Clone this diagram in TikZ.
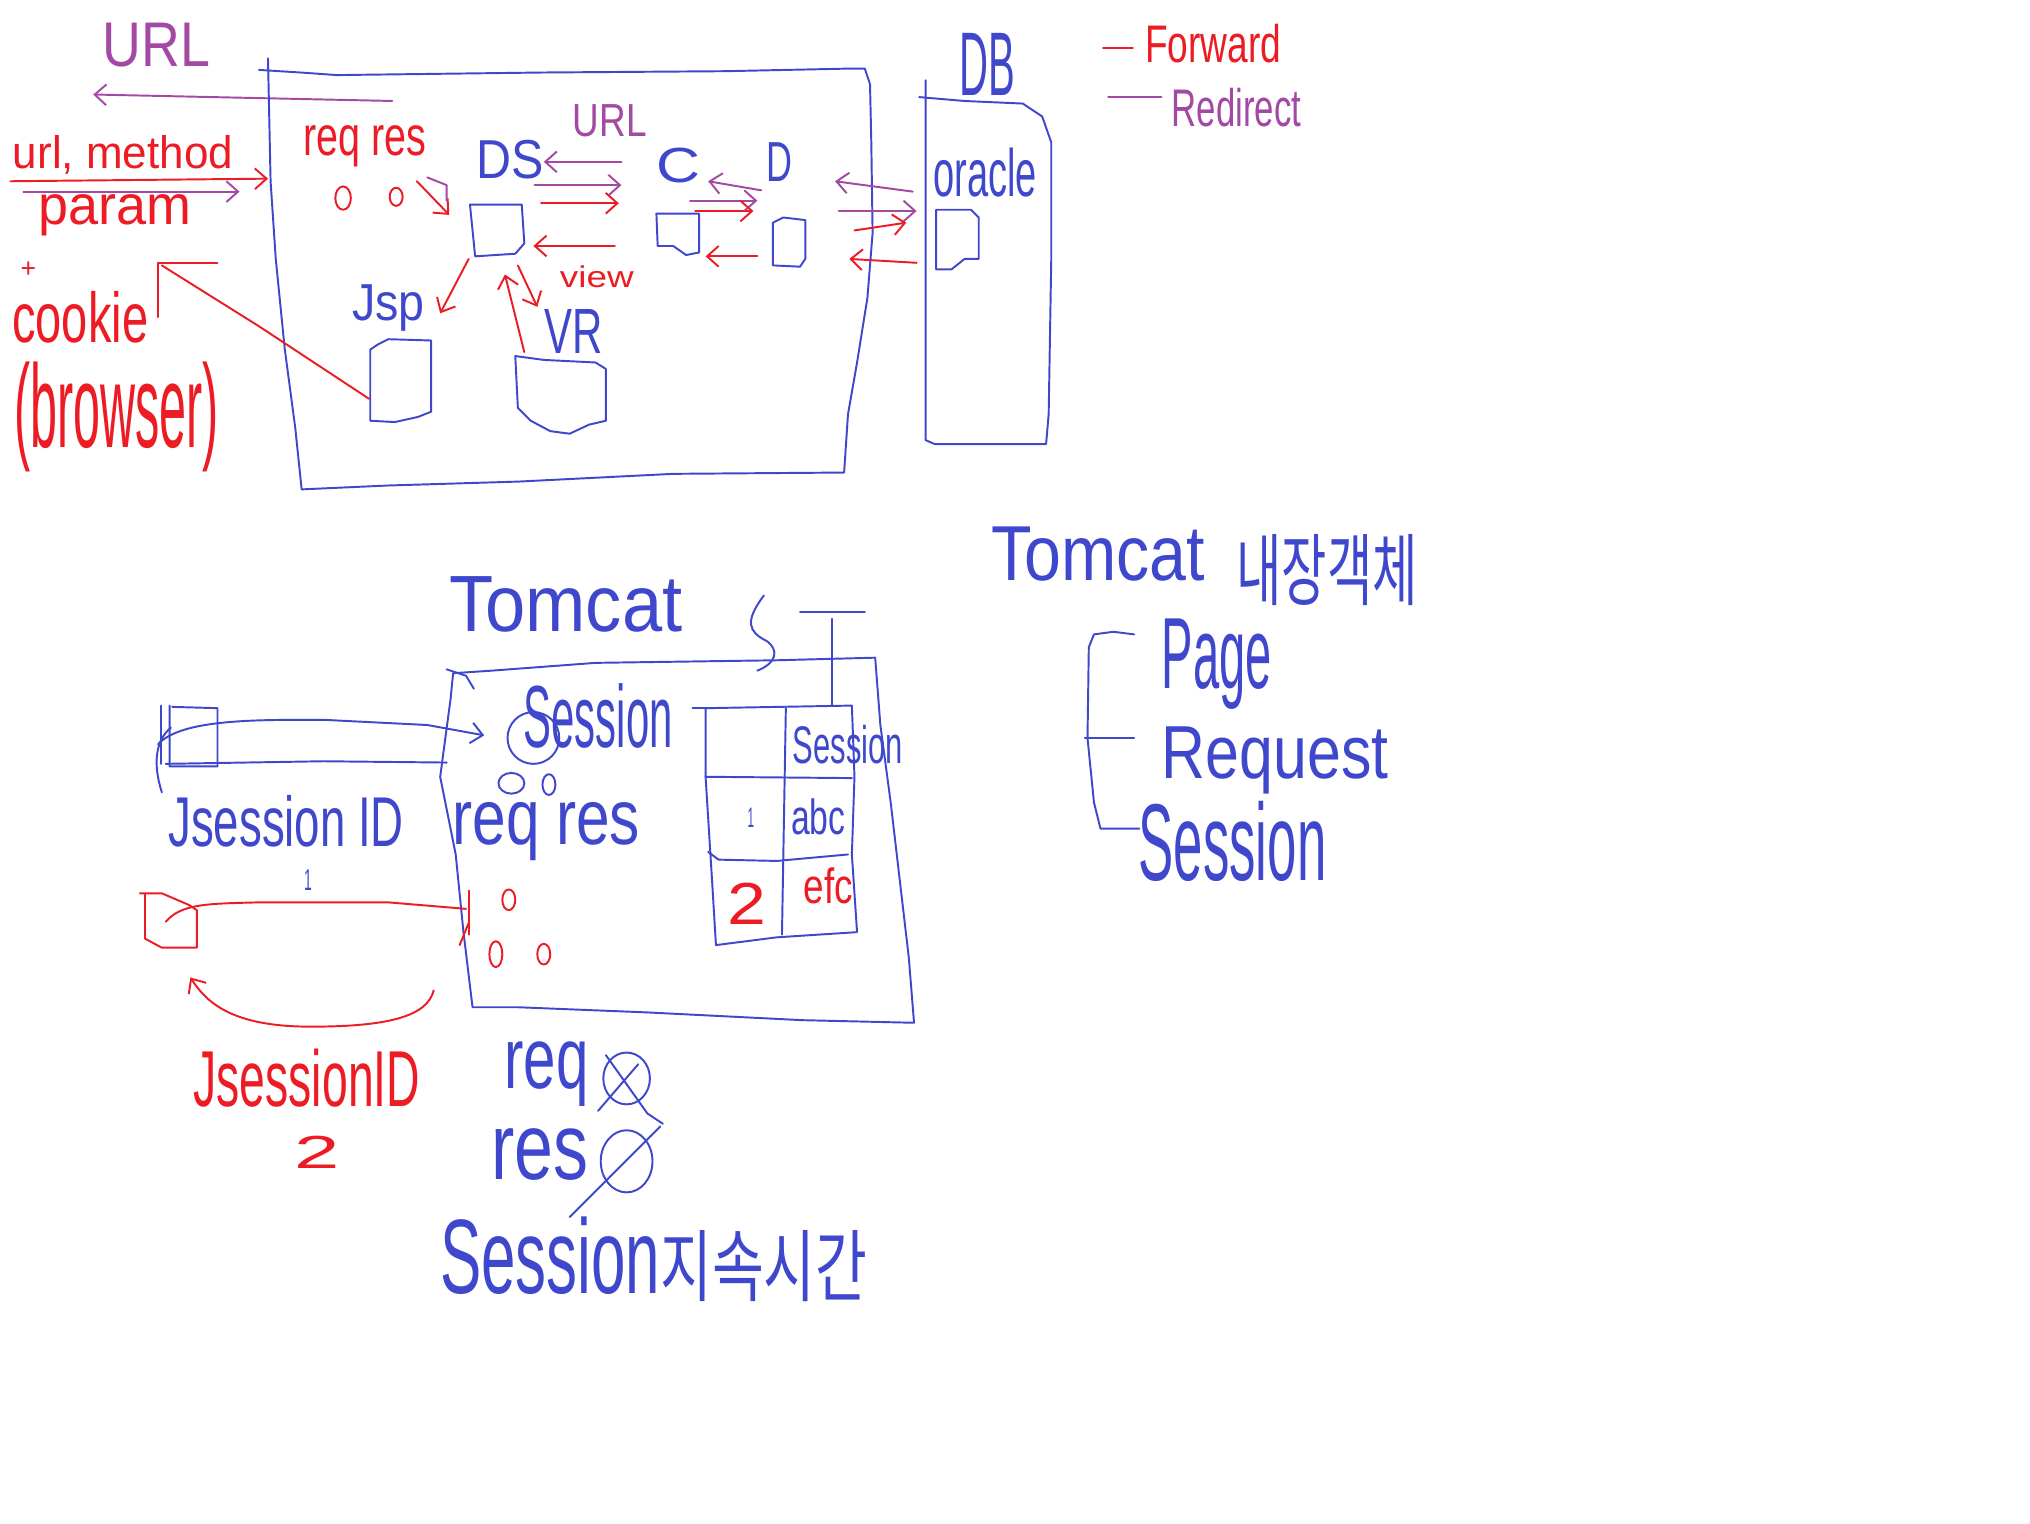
\documentclass[tikz,border=0pt]{standalone}
\usepackage{graphicx}
\usepackage{fontspec}
\setmainfont{Liberation Sans}
\newfontfamily\kr{Noto Sans CJK KR}
\usetikzlibrary{arrows.meta}
\definecolor{pb}{RGB}{63,72,204}
\definecolor{pr}{RGB}{237,28,36}
\definecolor{pp}{RGB}{163,73,164}
\newcommand\hwbox[3]{\resizebox*{#1pt}{#2pt}{#3}}
\begin{document}
\begin{tikzpicture}[x=1pt,y=-1pt,line width=1.5pt,line join=round,line cap=round,
  bl/.style={draw=pb}, rd/.style={draw=pr}, pu/.style={draw=pp},
  ar/.style={-{Straight Barb[length=9pt,width=16pt]}},
  ra/.style={{Straight Barb[length=9pt,width=16pt]}-},
  tx/.style={inner sep=0pt,anchor=center},
  tb/.style={tx,text=pb}, tr/.style={tx,text=pr}, tp/.style={tx,text=pp}]
\useasboundingbox[fill=white] (0,0) rectangle (1568,1177);

% ---------------- top section ----------------
\node[tp] (tURL) at (121,35) {\hwbox{83}{34}{URL}};
\coordinate (uA) at (303,78); \coordinate (uB) at (72,73);
\draw[pu,ar] (uA) -- (uB);

% big server box
\draw[bl] (200,54) -- (232,56) -- (260,58) -- (420,56) -- (560,55) -- (655,53) -- (668,53)
  -- (672,65) -- (673,110) -- (674,180) -- (670,230) -- (662,280) -- (655,320) -- (652,365)
  -- (520,366) -- (400,372) -- (300,375) -- (233,378) -- (228,330) -- (220,270) -- (213,200)
  -- (209,140) -- (207,45);

\node[tr] (tum) at (95,120) {\hwbox{170}{30}{url, method}};
\coordinate (rA) at (8,140); \coordinate (rB) at (207,138);
\draw[rd,ar] (rA) -- (rB);
\coordinate (pA) at (18,148); \coordinate (pB) at (185,148);
\draw[pu,ar] (pA) -- (pB);
\node[tr] (tparam) at (89,166) {\hwbox{118}{32}{param}};
\node[tr] (tplus) at (22,208) {\hwbox{12}{12}{+}};
\node[tr] (tcookie) at (62,245) {\hwbox{105}{40}{cookie}};
\node[tr] (tbrowser) at (90,322) {\hwbox{158}{85}{(browser)}};
\draw[rd] (122,245) -- (122,203) -- (168,203);
\draw[rd] (125,205) -- (200,252) -- (285,308);

\node[tr] (treqres) at (282,113) {\hwbox{95}{32}{req res}};
\draw[pr] (265,153) ellipse [x radius=6,y radius=9];
\draw[pr] (306,152) ellipse [x radius=5,y radius=7];
\coordinate (dA) at (322,140); \coordinate (dB) at (347,166);
\draw[rd,ar] (dA) -- (dB);
\draw[pu] (330,137) -- (345,143) -- (345,155);

\node[tb] (tDS) at (394,123) {\hwbox{52}{30}{DS}};
\draw[bl] (363,158) -- (403,158) -- (405,188) -- (398,196) -- (367,198) -- cycle;
\node[tp] (tURL2) at (471,93) {\hwbox{57}{25}{URL}};
\node[tb] (tC) at (524,128) {\hwbox{34}{27}{C}};
\draw[bl] (507,165) -- (540,165) -- (540,195) -- (530,197) -- (520,190) -- (508,190) -- cycle;
\node[tb] (tD) at (602,125) {\hwbox{20}{30}{D}};
\draw[bl] (605,168) -- (597,172) -- (597,205) -- (618,206) -- (622,200) -- (622,170) -- cycle;

% DS <-> C
\draw[pu,ar] (480,125) -- (420,125);
\draw[pu,ar] (413,143) -- (480,143);
\draw[rd,ar] (418,157) -- (478,157);
\draw[rd,ar] (475,190) -- (412,190);
% C <-> D
\draw[pu,ar] (588,147) -- (547,140);
\draw[pu,ar] (533,155) -- (585,155);
\draw[rd,ar] (537,163) -- (582,163);
\draw[rd,ar] (585,198) -- (545,198);
% D <-> DB
\draw[pu,ar] (705,148) -- (645,140);
\draw[pu,ar] (648,163) -- (708,163);
\draw[rd,ar] (660,178) -- (700,172);
\draw[rd,ar] (708,203) -- (656,200);

% JSP and VR
\node[tb] (tJsp) at (300,238) {\hwbox{56}{36}{Jsp}};
\draw[bl] (292,266) -- (286,270) -- (286,325) -- (305,326) -- (323,322) -- (333,318) -- (333,263) -- (300,262) -- cycle;
\node[tb] (tVR) at (443,256) {\hwbox{45}{34}{VR}};
\draw[bl] (398,275) -- (400,315) -- (410,325) -- (425,333) -- (440,335) -- (455,328) -- (468,325)
  -- (468,285) -- (460,280) -- (420,278) -- cycle;
\draw[rd,ar] (362,200) -- (340,242);
\draw[rd,ar] (405,272) -- (390,212);
\draw[rd,ar] (400,205) -- (415,237);
\node[tr] (tview) at (461,214) {\hwbox{57}{17}{view}};

% DB
\node[tb] (tDB) at (763,50) {\hwbox{43}{48}{DB}};
\draw[bl] (715,62) -- (715,340) -- (722,343) -- (808,343) -- (810,320) -- (812,200) -- (812,110)
  -- (805,90) -- (790,80) -- (745,78) -- (710,75);
\node[tb] (toracle) at (761,133) {\hwbox{80}{38}{oracle}};
\draw[bl] (723,162) -- (723,208) -- (735,208) -- (745,200) -- (756,200) -- (756,168) -- (750,162) -- cycle;

% legend
\draw[rd] (852,37) -- (875,37);
\node[tr] (tfwd) at (937,34) {\hwbox{105}{30}{Forward}};
\draw[pu] (856,75) -- (897,75);
\node[tp] (tred) at (955,83) {\hwbox{100}{30}{Redirect}};

% ---------------- right middle ----------------
\node[tb] (tTomR) at (848,428) {\hwbox{165}{42}{Tomcat}};
\node[tb] (tkr1) at (1025,440) {\hwbox{140}{55}{\kr 내장객체}};
\draw[bl] (876,490) -- (860,488) -- (845,490) -- (841,500) -- (840,570) -- (845,620) -- (850,640) -- (880,640);
\draw[bl] (838,570) -- (876,570);
\node[tb] (tPage) at (940,513) {\hwbox{85}{70}{Page}};
\node[tb] (tReq) at (985,587) {\hwbox{175}{52}{Request}};
\node[tb] (tSesR) at (952,650) {\hwbox{145}{62}{Session}};

% ---------------- bottom section ----------------
\node[tb] (tTomB) at (437,467) {\hwbox{180}{43}{Tomcat}};
\draw[bl] (590,460) .. controls (575,480) and (578,488) .. (592,495) .. controls (602,502) and (600,512) .. (585,518);
\draw[bl] (618,473) -- (668,473);
\draw[bl] (643,478) -- (643,545);

% tomcat box
\draw[bl] (350,520) -- (380,518) -- (460,512) -- (600,510) -- (676,508) -- (680,560) -- (688,620)
  -- (695,680) -- (702,740) -- (706,790) -- (620,788) -- (500,782) -- (400,778) -- (365,778)
  -- (358,720) -- (352,660) -- (340,600) -- (348,540) -- cycle;
\draw[bl] (345,517) -- (360,522) -- (366,532);

% table
\draw[bl] (535,547) -- (545,547);
\draw[bl] (545,547) -- (658,545) -- (660,600) -- (658,660) -- (662,720) -- (600,724) -- (553,730)
  -- (550,680) -- (545,600) -- cycle;
\draw[bl] (545,600) -- (658,601);
\draw[bl] (547,658) -- (555,664) -- (600,665) -- (655,660);
\draw[bl] (607,547) -- (604,722);
\node[tb] (tSesT) at (655,575) {\hwbox{85}{30}{Session}};
\node[tb] (tone) at (580,632) {\hwbox{5}{15}{1}};
\node[tb] (tabc) at (632,631) {\hwbox{42}{28}{abc}};
\node[tr] (ttwo) at (577,698) {\hwbox{30}{32}{2}};
\node[tr] (tefc) at (640,684) {\hwbox{38}{28}{efc}};

% session circle and o's
\node[tb] (tSesB) at (462,553) {\hwbox{115}{50}{Session}};
\draw[pb] (412,570) ellipse [x radius=20,y radius=20];
\draw[pb] (395,605) ellipse [x radius=10,y radius=8];
\draw[pb] (424,606) ellipse [x radius=5,y radius=8];
\node[tb] (treqresB) at (422,642) {\hwbox{145}{45}{req res}};

% cookie box and links
\draw[bl] (133,546) -- (168,547) -- (168,592) -- (131,592) -- (131,545);
\draw[bl] (124,545) -- (124,590);
\draw[bl] (132,562) .. controls (120,572) and (118,590) .. (125,612);
\draw[bl,ar] (122,575) .. controls (140,555) and (200,556) .. (250,556) -- (330,560) -- (374,568);
\draw[bl] (128,590) -- (250,588) -- (345,589);
\node[tb] (tJsid) at (221,634) {\hwbox{182}{40}{Jsession ID}};
\node[tb] (tl) at (238,680) {\hwbox{6}{16}{1}};

% red cookie
\draw[rd] (108,690) -- (125,690) -- (146,699) -- (152,703) -- (152,732) -- (125,732) -- (112,725) -- (112,690);
\draw[rd] (128,712) .. controls (140,698) and (160,698) .. (200,697) -- (300,697) -- (360,702);
\draw[rd] (362,688) -- (362,722);
\draw[rd] (362,713) -- (355,730);
\draw[pr] (393,695) ellipse [x radius=5,y radius=8];
\draw[pr] (383,737) ellipse [x radius=5,y radius=10];
\draw[pr] (420,737) ellipse [x radius=5,y radius=8];
\draw[rd,ra] (147,755) .. controls (160,775) and (180,793) .. (240,793) .. controls (300,793) and (330,785) .. (335,765);
\node[tr] (tJsidR) at (237,833) {\hwbox{175}{45}{JsessionID}};
\node[tr] (ttwoR) at (245,890) {\hwbox{35}{25}{2}};

% req / res crossed
\node[tb] (treqX) at (422,830) {\hwbox{65}{50}{req}};
\draw[pb] (484,833) ellipse [x radius=18,y radius=20];
\draw[bl] (462,858) -- (493,822);
\draw[bl] (468,815) -- (500,860) -- (512,868);
\node[tb] (tresX) at (417,892) {\hwbox{75}{40}{res}};
\draw[pb] (484,897) ellipse [x radius=20,y radius=24];
\draw[bl] (440,940) -- (510,870);
\node[tb] (tSesDur) at (425,970) {\hwbox{170}{60}{Session}};
\node[tb] (tkr2) at (590,978) {\hwbox{160}{55}{\kr 지속시간}};
\end{tikzpicture}
\end{document}
